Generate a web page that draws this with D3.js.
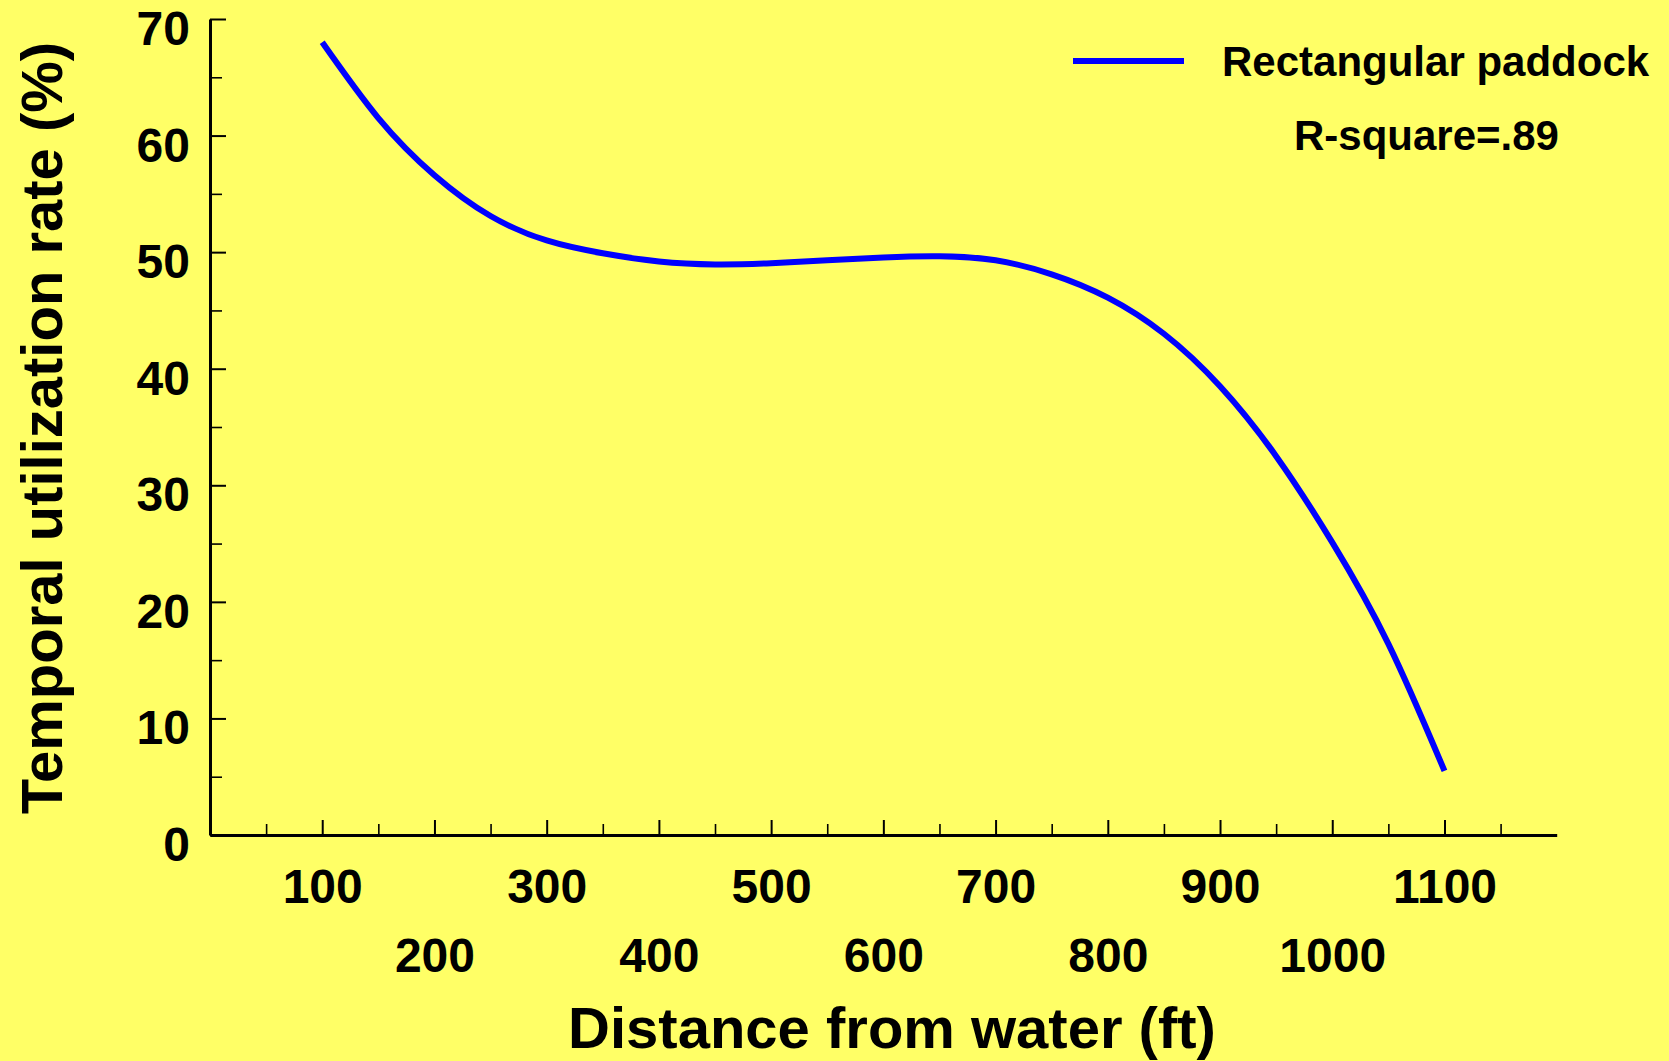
<!DOCTYPE html>
<html>
<head>
<meta charset="utf-8">
<script src="https://cdn.jsdelivr.net/npm/d3@7"></script>
<style>
  html, body { margin: 0; padding: 0; background: #ffff66; }
  svg { display: block; }
  text { font-family: "Liberation Sans", Arial, sans-serif; font-weight: bold; fill: #000; }
</style>
</head>
<body>
<svg id="chart" width="1669" height="1061"></svg>
<script>
// ---- data ----
const distances = [100, 150, 200, 250, 300, 350, 400, 450, 500, 550, 600, 650, 700, 750, 800, 850, 900, 950, 1000, 1050, 1100];
const utilization = [68.0, 61.5, 56.6, 53.1, 51.0, 49.9, 49.2, 48.95, 49.05, 49.3, 49.55, 49.65, 49.3, 48.1, 46.1, 43.0, 38.5, 32.5, 25.1, 16.4, 5.5];
const xMajorTicks = [100, 200, 300, 400, 500, 600, 700, 800, 900, 1000, 1100];
const xMinorTicks = [50, 150, 250, 350, 450, 550, 650, 750, 850, 950, 1050, 1150];
const yMajorTicks = [0, 10, 20, 30, 40, 50, 60, 70];
const yMinorTicks = [5, 15, 25, 35, 45, 55, 65];
const seriesName = "Rectangular paddock";
const rSquareLabel = "R-square=.89";
const xTitle = "Distance from water (ft)";
const yTitle = "Temporal utilization rate (%)";

// ---- layout ----
const svg = d3.select("#chart");
const plotLeft = 210, plotRight = 1556.7, plotTop = 19, plotBottom = 835;

svg.append("rect").attr("width", 1669).attr("height", 1061).attr("fill", "#ffff66");

const x = d3.scaleLinear().domain([0, 1200]).range([plotLeft, plotRight]);
const y = d3.scaleLinear().domain([0, 70]).range([plotBottom, plotTop]);

const FONT = '"Liberation Sans", Arial, sans-serif';

// y axis
const gy = svg.append("g").attr("transform", `translate(${plotLeft},0)`);
gy.call(d3.axisLeft(y).tickValues(yMajorTicks).tickSize(-16).tickSizeOuter(0).tickPadding(20).tickFormat(d3.format("d")));
gy.select(".domain").attr("stroke", "#000").attr("stroke-width", 3);
gy.selectAll(".tick line").attr("stroke", "#000").attr("stroke-width", 2);
gy.selectAll(".tick text").attr("font-size", 48).attr("dy", null).attr("y", 25.5)
  .attr("font-family", FONT).attr("font-weight", "bold").attr("fill", "#000");
const gyMinor = svg.append("g").attr("transform", `translate(${plotLeft},0)`);
gyMinor.call(d3.axisLeft(y).tickValues(yMinorTicks).tickSize(-12).tickSizeOuter(0).tickFormat(""));
gyMinor.select(".domain").remove();
gyMinor.selectAll(".tick line").attr("stroke", "#000").attr("stroke-width", 1.6);

// x axis
const gx = svg.append("g").attr("transform", `translate(0,${plotBottom})`);
gx.call(d3.axisBottom(x).tickValues(xMajorTicks).tickSize(-15).tickSizeOuter(0).tickFormat(d3.format("d")));
gx.select(".domain").attr("stroke", "#000").attr("stroke-width", 3);
gx.selectAll(".tick line").attr("stroke", "#000").attr("stroke-width", 2);
gx.selectAll(".tick text")
  .attr("font-size", 48).attr("dy", null)
  .attr("y", (d, i) => (i % 2 === 0 ? 68 : 137))
  .attr("font-family", FONT).attr("font-weight", "bold").attr("fill", "#000");
const gxMinor = svg.append("g").attr("transform", `translate(0,${plotBottom})`);
gxMinor.call(d3.axisBottom(x).tickValues(xMinorTicks).tickSize(-11).tickSizeOuter(0).tickFormat(""));
gxMinor.select(".domain").remove();
gxMinor.selectAll(".tick line").attr("stroke", "#000").attr("stroke-width", 1.6);

// titles
svg.append("text").attr("x", 892).attr("y", 1048).attr("text-anchor", "middle")
  .attr("font-size", 58).text(xTitle);
svg.append("text").attr("transform", "translate(62,428) rotate(-90)").attr("text-anchor", "middle")
  .attr("font-size", 58).text(yTitle);

// curve
const line = d3.line()
  .x((d, i) => x(distances[i]))
  .y(d => y(d))
  .curve(d3.curveNatural);
svg.append("path").datum(utilization)
  .attr("d", line)
  .attr("fill", "none").attr("stroke", "#0000ff").attr("stroke-width", 6);

// legend
svg.append("line").attr("x1", 1073).attr("x2", 1184).attr("y1", 61).attr("y2", 61)
  .attr("stroke", "#0000ff").attr("stroke-width", 6);
svg.append("text").attr("x", 1222).attr("y", 76).attr("font-size", 42).text(seriesName);
svg.append("text").attr("x", 1294).attr("y", 150).attr("font-size", 42).text(rSquareLabel);
</script>
</body>
</html>
